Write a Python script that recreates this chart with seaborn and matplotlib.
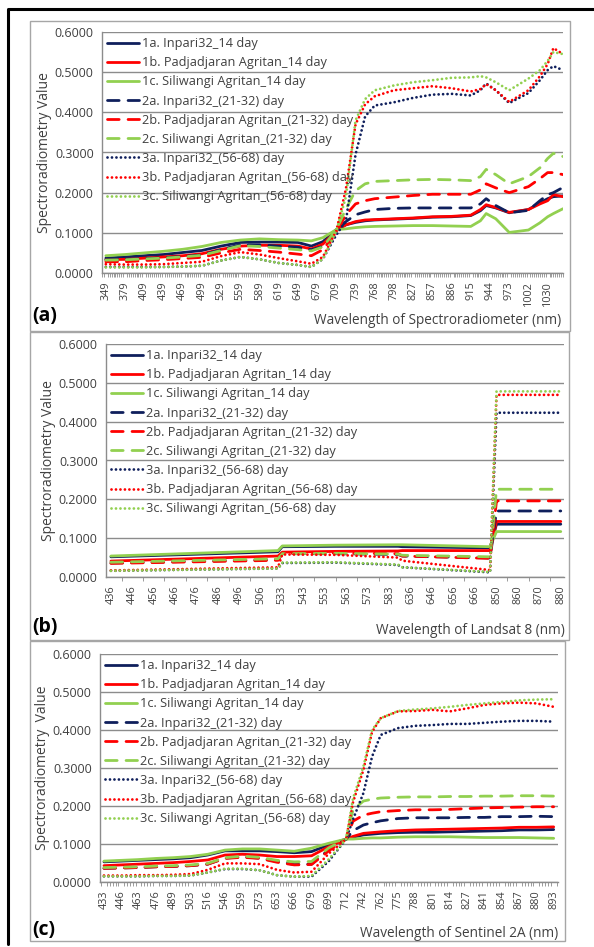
import numpy as np
import pandas as pd
import matplotlib
matplotlib.use("Agg")
import matplotlib.pyplot as plt
from matplotlib.lines import Line2D
from matplotlib.patches import Rectangle
from matplotlib.ticker import MultipleLocator, FormatStrFormatter
import seaborn as sns

W, H = 594, 947

series = ["1a. Inpari32_14 day", "1b. Padjadjaran Agritan_14 day", "1c. Siliwangi Agritan_14 day",
          "2a. Inpari32_(21-32) day", "2b. Padjadjaran Agritan_(21-32) day", "2c. Siliwangi Agritan_(21-32) day",
          "3a. Inpari32_(56-68) day", "3b. Padjadjaran Agritan_(56-68) day", "3c. Siliwangi Agritan_(56-68) day"]

# (a) spectroradiometer
labels_a = ["349", "379", "409", "439", "469", "499", "529", "559", "589", "619", "649", "679",
            "709", "739", "768", "798", "827", "857", "886", "915", "944", "973", "1002", "1030"]
pos_a = [0, 1, 2, 3, 4, 5, 6, 7, 8, 9, 10, 10.7, 11.3, 12, 12.5, 13, 13.5, 14, 15, 16, 17, 18, 19,
         19.5, 19.8, 20.3, 21, 22, 22.6, 23, 23.3, 23.8]
a_1a = [0.037, 0.040, 0.043, 0.046, 0.051, 0.056, 0.067, 0.076, 0.077, 0.077, 0.076, 0.067,
        0.078, 0.108, 0.120, 0.126, 0.130, 0.132, 0.134, 0.136, 0.139, 0.140, 0.143,
        0.155, 0.168, 0.162, 0.150, 0.158, 0.175, 0.185, 0.190, 0.192]
a_1b = [0.033, 0.034, 0.037, 0.040, 0.043, 0.048, 0.059, 0.067, 0.069, 0.069, 0.067, 0.060,
        0.072, 0.105, 0.120, 0.128, 0.132, 0.133, 0.135, 0.137, 0.140, 0.141, 0.144,
        0.158, 0.170, 0.163, 0.151, 0.158, 0.172, 0.180, 0.195, 0.190]
a_1c = [0.043, 0.046, 0.050, 0.054, 0.059, 0.066, 0.076, 0.082, 0.085, 0.083, 0.082, 0.080,
        0.088, 0.108, 0.110, 0.113, 0.115, 0.116, 0.117, 0.118, 0.118, 0.117, 0.116,
        0.130, 0.148, 0.135, 0.101, 0.107, 0.125, 0.140, 0.148, 0.160]
a_2a = [0.033, 0.034, 0.036, 0.038, 0.041, 0.045, 0.058, 0.070, 0.070, 0.067, 0.064, 0.058,
        0.066, 0.105, 0.128, 0.145, 0.152, 0.158, 0.161, 0.162, 0.162, 0.162, 0.162,
        0.172, 0.185, 0.168, 0.150, 0.156, 0.180, 0.195, 0.200, 0.213]
a_2b = [0.028, 0.028, 0.031, 0.033, 0.036, 0.039, 0.050, 0.059, 0.056, 0.052, 0.047, 0.043,
        0.058, 0.102, 0.145, 0.172, 0.180, 0.185, 0.189, 0.193, 0.196, 0.196, 0.196,
        0.207, 0.222, 0.212, 0.200, 0.215, 0.235, 0.250, 0.250, 0.245]
a_2c = [0.032, 0.033, 0.035, 0.037, 0.040, 0.044, 0.056, 0.068, 0.066, 0.062, 0.058, 0.055,
        0.065, 0.108, 0.160, 0.205, 0.222, 0.228, 0.230, 0.232, 0.233, 0.232, 0.230,
        0.240, 0.258, 0.245, 0.222, 0.240, 0.262, 0.285, 0.298, 0.290]
a_3a = [0.015, 0.015, 0.015, 0.015, 0.016, 0.018, 0.031, 0.040, 0.034, 0.025, 0.020, 0.015,
        0.035, 0.095, 0.130, 0.295, 0.390, 0.417, 0.425, 0.436, 0.444, 0.446, 0.442,
        0.455, 0.472, 0.455, 0.423, 0.448, 0.480, 0.505, 0.515, 0.505]
a_3b = [0.022, 0.021, 0.021, 0.022, 0.025, 0.028, 0.042, 0.052, 0.046, 0.037, 0.029, 0.023,
        0.040, 0.105, 0.210, 0.370, 0.420, 0.440, 0.455, 0.460, 0.465, 0.460, 0.452,
        0.458, 0.470, 0.455, 0.426, 0.455, 0.490, 0.520, 0.560, 0.545]
a_3c = [0.014, 0.014, 0.014, 0.015, 0.016, 0.018, 0.031, 0.040, 0.034, 0.025, 0.020, 0.015,
        0.035, 0.105, 0.190, 0.380, 0.433, 0.455, 0.467, 0.475, 0.480, 0.486, 0.487,
        0.490, 0.487, 0.475, 0.455, 0.484, 0.505, 0.528, 0.550, 0.545]

# (b) Landsat 8 bands
labels_b = ["436", "446", "456", "466", "476", "486", "496", "506", "533", "543", "553", "563",
            "573", "583", "636", "646", "656", "666", "850", "860", "870", "880"]
pos_b = [0, 7.8, 8.0, 10.5, 13.4, 13.6, 17.7, 18.0, 21.0]
b_1a = [0.052, 0.065, 0.078, 0.079, 0.079, 0.078, 0.075, 0.136, 0.136]
b_1b = [0.041, 0.054, 0.064, 0.066, 0.067, 0.068, 0.068, 0.143, 0.143]
b_1c = [0.054, 0.068, 0.080, 0.082, 0.083, 0.083, 0.078, 0.117, 0.117]
b_2a = [0.036, 0.045, 0.060, 0.060, 0.058, 0.054, 0.049, 0.170, 0.170]
b_2b = [0.035, 0.043, 0.061, 0.062, 0.060, 0.054, 0.048, 0.196, 0.196]
b_2c = [0.038, 0.047, 0.060, 0.061, 0.059, 0.056, 0.052, 0.226, 0.226]
b_3a = [0.016, 0.022, 0.036, 0.037, 0.031, 0.025, 0.012, 0.423, 0.423]
b_3b = [0.017, 0.025, 0.058, 0.057, 0.050, 0.042, 0.018, 0.469, 0.469]
b_3c = [0.016, 0.022, 0.037, 0.038, 0.032, 0.025, 0.013, 0.478, 0.478]

# (c) Sentinel 2A
labels_c = ["433", "446", "463", "476", "489", "503", "516", "546", "559", "573", "653", "666",
            "679", "699", "712", "742", "762", "775", "788", "801", "814", "827", "841", "854",
            "867", "880", "893"]
pos_c = [0, 1, 2, 3, 4, 5, 6, 7, 8, 9, 10, 11, 12, 13, 14, 14.4, 15, 15.5,
         16, 17, 18, 19, 20, 21, 22, 23, 24, 25, 26]
c_1a = [0.053, 0.055, 0.057, 0.059, 0.061, 0.064, 0.071, 0.082, 0.082, 0.082, 0.080, 0.077, 0.080, 0.098, 0.113,
        0.118, 0.124, 0.126, 0.128, 0.130, 0.131, 0.131, 0.132, 0.133, 0.134, 0.135, 0.137, 0.137, 0.138]
c_1b = [0.043, 0.045, 0.047, 0.049, 0.051, 0.054, 0.058, 0.071, 0.073, 0.071, 0.067, 0.067, 0.069, 0.093, 0.113,
        0.120, 0.128, 0.130, 0.132, 0.135, 0.137, 0.138, 0.139, 0.140, 0.141, 0.142, 0.144, 0.144, 0.145]
c_1c = [0.055, 0.057, 0.059, 0.062, 0.064, 0.067, 0.073, 0.084, 0.087, 0.087, 0.084, 0.081, 0.089, 0.102, 0.113,
        0.113, 0.115, 0.116, 0.116, 0.118, 0.119, 0.119, 0.119, 0.118, 0.117, 0.117, 0.117, 0.116, 0.115]
c_2a = [0.036, 0.037, 0.038, 0.040, 0.041, 0.043, 0.047, 0.063, 0.066, 0.063, 0.054, 0.046, 0.047, 0.085, 0.113,
        0.135, 0.150, 0.156, 0.161, 0.167, 0.169, 0.169, 0.169, 0.170, 0.170, 0.172, 0.172, 0.173, 0.172]
c_2b = [0.036, 0.037, 0.038, 0.040, 0.041, 0.043, 0.047, 0.062, 0.065, 0.062, 0.052, 0.045, 0.046, 0.082, 0.113,
        0.160, 0.176, 0.181, 0.185, 0.188, 0.190, 0.190, 0.191, 0.193, 0.195, 0.196, 0.197, 0.198, 0.198]
c_2c = [0.038, 0.039, 0.040, 0.042, 0.043, 0.045, 0.049, 0.064, 0.068, 0.065, 0.057, 0.053, 0.054, 0.090, 0.113,
        0.190, 0.213, 0.218, 0.221, 0.223, 0.224, 0.224, 0.225, 0.225, 0.226, 0.226, 0.227, 0.227, 0.226]
c_3a = [0.015, 0.015, 0.015, 0.016, 0.016, 0.017, 0.025, 0.034, 0.034, 0.031, 0.018, 0.014, 0.014, 0.055, 0.113,
        0.165, 0.234, 0.330, 0.387, 0.405, 0.411, 0.413, 0.416, 0.416, 0.419, 0.422, 0.424, 0.424, 0.422]
c_3b = [0.017, 0.017, 0.018, 0.018, 0.019, 0.021, 0.032, 0.049, 0.049, 0.047, 0.032, 0.025, 0.027, 0.075, 0.113,
        0.210, 0.295, 0.395, 0.431, 0.449, 0.450, 0.453, 0.449, 0.457, 0.466, 0.470, 0.472, 0.470, 0.461]
c_3c = [0.015, 0.015, 0.015, 0.016, 0.016, 0.017, 0.025, 0.035, 0.035, 0.031, 0.018, 0.014, 0.016, 0.060, 0.113,
        0.220, 0.304, 0.400, 0.431, 0.450, 0.454, 0.457, 0.461, 0.466, 0.470, 0.474, 0.478, 0.480, 0.481]

navy, red, green = "#0F1F5C", "#FF0000", "#92D050"
colors = dict(zip(series, [navy, red, green] * 3))
dash_map = dict(zip(series, [""] * 3 + [(4.2, 3.2)] * 3 + [(0.01, 1.6)] * 3))

sns.set_theme(style="white")
plt.rcParams["font.family"] = ["Open Sans", "DejaVu Sans"]
plt.rcParams["lines.dash_capstyle"] = "round"
plt.rcParams["lines.solid_capstyle"] = "round"
txt = "#404040"
grid = "#8C8C8C"

fig = plt.figure(figsize=(W / 100, H / 100), dpi=100)


def px_rect(x0, y0, x1, y1):
    return [x0 / W, 1 - y1 / H, (x1 - x0) / W, (y1 - y0) / H]


def panel(rect, pos, vals, labels, xlim, minor, xlabel, ylabel, letter, box, xlab_pos, letter_pos):
    ax = fig.add_axes(px_rect(*rect))
    df = pd.DataFrame({"pos": np.tile(pos, len(series)),
                       "value": np.concatenate(vals),
                       "series": np.repeat(series, len(pos))})
    sns.lineplot(data=df, x="pos", y="value", hue="series", style="series",
                 hue_order=series, style_order=series, palette=colors, dashes=dash_map,
                 linewidth=2.0, errorbar=None, ax=ax)
    ax.set_xlim(*xlim)
    ax.set_ylim(0, 0.6)
    ax.set_xticks(range(len(labels)))
    ax.set_xticklabels(labels, rotation=90, fontsize=7.8, color=txt)
    ax.xaxis.set_minor_locator(MultipleLocator(minor))
    ax.yaxis.set_major_locator(MultipleLocator(0.1))
    ax.yaxis.set_major_formatter(FormatStrFormatter("%.4f"))
    ax.tick_params(axis="y", labelsize=9, colors=txt, length=4, width=0.8, color=grid, pad=2)
    ax.tick_params(axis="x", which="major", length=4, width=0.8, color=grid, pad=2)
    ax.tick_params(axis="x", which="minor", bottom=True, length=3, width=0.6, color=grid)
    ax.yaxis.grid(True, color=grid, lw=1.0)
    ax.set_axisbelow(True)
    for s in ["top", "right"]:
        ax.spines[s].set_visible(False)
    for s in ["left", "bottom"]:
        ax.spines[s].set_color(grid)
        ax.spines[s].set_linewidth(1.0)
    ax.set_xlabel("")
    ax.set_ylabel(ylabel, fontsize=10, color=txt, labelpad=2)
    sns.move_legend(ax, "upper left", bbox_to_anchor=(0.0, 1.0), frameon=False, title=None,
                    fontsize=9.2, handlelength=2.5, handletextpad=0.25, labelspacing=0.48,
                    borderaxespad=0.0, borderpad=0.4)
    for ln in ax.get_legend().get_lines():
        ln.set_linewidth(2.0)
    for t in ax.get_legend().get_texts():
        t.set_color(txt)
    fig.add_artist(Rectangle((box[0] / W, 1 - box[3] / H), (box[2] - box[0]) / W,
                             (box[3] - box[1]) / H, transform=fig.transFigure,
                             fill=False, ec="#A6A6A6", lw=1.0))
    fig.text(xlab_pos[0] / W, 1 - xlab_pos[1] / H, xlabel, ha="right", va="center",
             fontsize=9.8, color=txt)
    fig.text(letter_pos[0] / W, 1 - letter_pos[1] / H, letter, ha="left", va="center",
             fontsize=14, fontweight="bold", color="black")
    return ax


panel((102, 32, 563, 273), pos_a, [a_1a, a_1b, a_1c, a_2a, a_2b, a_2c, a_3a, a_3b, a_3c],
      labels_a, (-0.2, 23.8), 0.1, "Wavelength of Spectroradiometer (nm)",
      "Spectroradiometry Value", "(a)", (30, 21, 570, 331), (561, 320), (32, 316))
panel((106, 344, 564, 577), pos_b, [b_1a, b_1b, b_1c, b_2a, b_2b, b_2c, b_3a, b_3b, b_3c],
      labels_b, (-0.23, 21.15), 0.5, "Wavelength of Landsat 8 (nm)",
      "Spectroradiometry Value", "(b)", (30, 332, 569, 640), (565, 630), (32, 627))
panel((100, 654, 558, 882), pos_c, [c_1a, c_1b, c_1c, c_2a, c_2b, c_2c, c_3a, c_3b, c_3c],
      labels_c, (-0.23, 26.25), 1 / 6, "Wavelength of Sentinel 2A (nm)",
      "Spectroradiometry  Value", "(c)", (30, 641, 565, 941), (558, 933), (32, 930))

# outer black frame (top and left edges visible)
fig.add_artist(Line2D([8 / W, 8 / W, 1.0], [1 - 944 / H, 1 - 9 / H, 1 - 9 / H],
                      transform=fig.transFigure, color="black", lw=2.2))

fig.savefig("out.png", dpi=100)
